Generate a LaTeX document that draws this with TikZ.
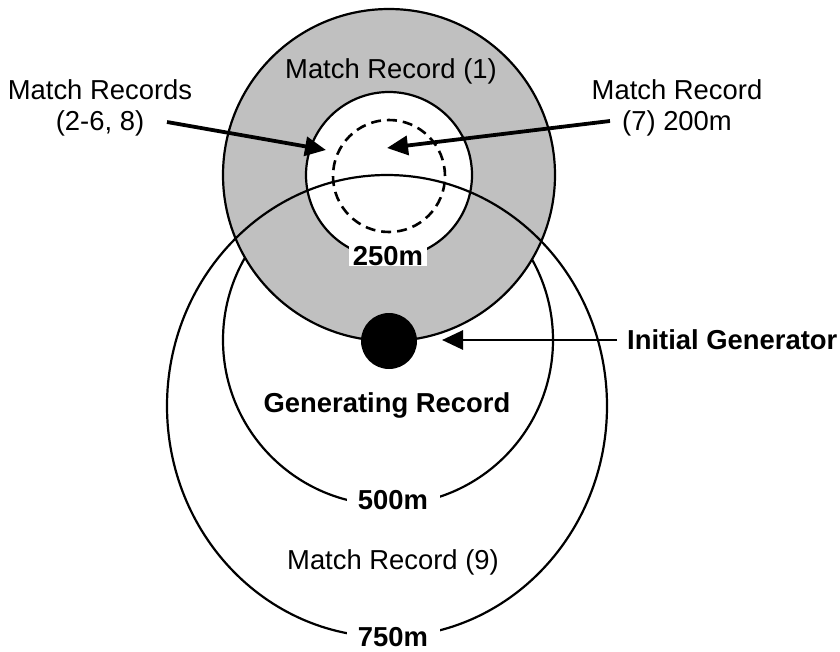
\documentclass[tikz,border=0pt]{standalone}
\usepackage{fontspec}
\setmainfont{Liberation Sans}
\usetikzlibrary{arrows.meta}
\definecolor{ringgray}{RGB}{192,192,192}
\tikzset{
  ring/.style={draw=black, line width=2.2pt},
  lbl/.style={font=\fontsize{27.4}{31}\selectfont, align=center, inner sep=0pt},
  blbl/.style={font=\fontsize{27.4}{31}\selectfont\bfseries, align=center, inner sep=0pt},
  tag/.style={blbl, fill=white, minimum height=20pt},
  pointer/.style={line width=3.8pt, -{Triangle[length=21pt,width=19pt]}},
  thinpointer/.style={line width=2.8pt, -{Triangle[length=21pt,width=19pt]}},
}
\begin{document}
\begin{tikzpicture}[x=1pt,y=-1pt]
  \useasboundingbox (0,0) rectangle (840,651);
  % 500 m range around the generator (partly hidden under the shaded ring)
  \draw[ring] (388,340) circle[radius=165pt];
  % shaded ring: match record (1)
  \draw[ring, fill=ringgray] (389,175) circle[radius=166pt];
  % 250 m inner zone
  \draw[ring, fill=white] (389,175) circle[radius=83pt];
  % 200 m zone
  \draw[line width=2.6pt, dash pattern=on 10pt off 6pt] (389,176) circle[radius=56pt];
  % 750 m range
  \draw[ring] (387,406) ellipse[x radius=220pt, y radius=231pt];
  % initial generator
  \node[circle, fill=black, minimum size=56pt, inner sep=0pt] (gen) at (389,341) {};

  % texts
  \node[lbl] (mr1) at (391,71) {Match Record (1)};
  \node[lbl] (mrs) at (100,108) {Match Records\\(2-6, 8)};
  \node[lbl] (mr7) at (677,108) {Match Record\\(7) 200m};
  \node[tag, minimum width=78pt] (t250) at (388,256) {250m};
  \node[blbl, anchor=west] (ig) at (627,340) {Initial Generator};
  \node[blbl] (grec) at (387,405) {Generating Record};
  \node[tag, minimum width=93pt] (t500) at (393,500) {500m};
  \node[lbl] (mr9) at (393,562) {Match Record (9)};
  \node[tag, minimum width=93pt] (t750) at (393,637) {750m};

  % pointers
  \coordinate (a1s) at (167,122);
  \coordinate (a1e) at (326,150);
  \coordinate (a2s) at (610,121);
  \coordinate (a2e) at (387,148);
  \coordinate (a3s) at (617,340);
  \coordinate (a3e) at (442,340);
  \draw[pointer] (a1s) -- (a1e);
  \draw[pointer] (a2s) -- (a2e);
  \draw[thinpointer] (a3s) -- (a3e);
\end{tikzpicture}
\end{document}
